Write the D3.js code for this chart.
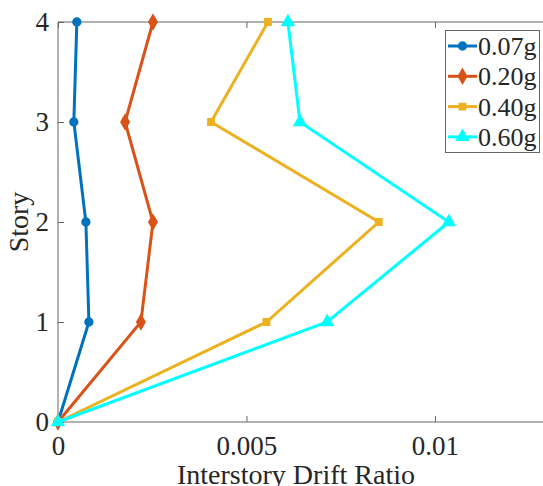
<!DOCTYPE html>
<html lang="en">
<head>
<meta charset="utf-8">
<style>
  body { margin: 0; background: #fff; }
  text { font-family: "Liberation Serif", "Times New Roman", serif; fill: #262626; }
</style>
</head>
<body>
<svg width="543" height="486"></svg>
<script src="https://cdn.jsdelivr.net/npm/d3@7"></script>
<script>
// story levels and drift ratio per PGA level
var stories = [0, 1, 2, 3, 4];
var drift007 = [0, 0.00082, 0.00074, 0.00042, 0.00050];
var drift020 = [0, 0.00220, 0.00252, 0.00178, 0.00252];
var drift040 = [0, 0.00553, 0.00851, 0.00406, 0.00557];
var drift060 = [0, 0.00714, 0.01037, 0.00642, 0.00610];
var seriesNames = ["0.07g", "0.20g", "0.40g", "0.60g"];
var xTicks = [0, 0.005, 0.01];
var xTickLabels = ["0", "0.005", "0.01"];

var colors = ["#0072BD", "#D95319", "#EDB120", "#00FFFF"];
var shapes = [d3.symbolCircle, d3.symbolDiamond, d3.symbolSquare, d3.symbolTriangle];
var sizes = [48, 60, 40, 60];
var allDrift = [drift007, drift020, drift040, drift060];

var svg = d3.select("svg");
var mLeft = 58, mTop = 22, mRight = 548, mBottom = 422;

var x = d3.scaleLinear().domain([0, 0.013]).range([mLeft, mRight]);
var y = d3.scaleLinear().domain([0, 4]).range([mBottom, mTop]);

var axisColor = "#666";

// bottom axis with inward ticks
var gx = svg.append("g").attr("transform", "translate(0," + mBottom + ")")
    .call(d3.axisBottom(x).tickValues(xTicks).tickSize(-6).tickPadding(14)
        .tickFormat(function (d, i) { return xTickLabels[i]; }));
gx.select(".domain").remove();
gx.selectAll(".tick line").attr("stroke", axisColor);
gx.selectAll("text").style("font-size", "27px").attr("fill", "#262626")
    .style("font-family", "Liberation Serif");

// top ticks mirror
svg.append("g").attr("transform", "translate(0," + mTop + ")")
    .call(d3.axisTop(x).tickValues(xTicks).tickSize(-6).tickFormat(""))
    .call(function (g) { g.select(".domain").remove(); g.selectAll("line").attr("stroke", axisColor); });

var gy = svg.append("g").attr("transform", "translate(" + mLeft + ",0)")
    .call(d3.axisLeft(y).tickValues(stories).tickSize(-6).tickPadding(9).tickFormat(d3.format("d")));
gy.select(".domain").remove();
gy.selectAll(".tick line").attr("stroke", axisColor);
gy.selectAll("text").style("font-size", "27px").attr("fill", "#262626")
    .style("font-family", "Liberation Serif");

// box
svg.append("line").attr("x1", mLeft).attr("x2", mRight).attr("y1", mBottom).attr("y2", mBottom).attr("stroke", axisColor);
svg.append("line").attr("x1", mLeft).attr("x2", mRight).attr("y1", mTop).attr("y2", mTop).attr("stroke", axisColor);
svg.append("line").attr("x1", mLeft).attr("x2", mLeft).attr("y1", mTop).attr("y2", mBottom).attr("stroke", axisColor);

// labels
svg.append("text").attr("x", 296).attr("y", 484)
    .attr("text-anchor", "middle").style("font-size", "28px").text("Interstory Drift Ratio");
svg.append("text").attr("transform", "translate(28," + (mTop + mBottom) / 2 + ") rotate(-90)")
    .attr("text-anchor", "middle").style("font-size", "28px").text("Story");

var line = d3.line()
    .x(function (d) { return x(d[0]); })
    .y(function (d) { return y(d[1]); });

allDrift.forEach(function (vals, k) {
    var pts = vals.map(function (v, i) { return [v, stories[i]]; });
    svg.append("path").datum(pts).attr("d", line)
        .attr("fill", "none").attr("stroke", colors[k]).attr("stroke-width", 3)
        .attr("stroke-linejoin", "miter");
    svg.selectAll(".m" + k).data(pts).enter().append("path")
        .attr("class", "m" + k)
        .attr("transform", function (d) { return "translate(" + x(d[0]) + "," + y(d[1]) + ")"; })
        .attr("d", d3.symbol().type(shapes[k]).size(sizes[k]))
        .attr("fill", colors[k]).attr("stroke", colors[k]).attr("stroke-width", 1.5);
});

// legend
var lg = svg.append("g");
lg.append("rect").attr("x", 445.5).attr("y", 30.5).attr("width", 94).attr("height", 122)
    .attr("fill", "#fff").attr("stroke", axisColor);
seriesNames.forEach(function (name, k) {
    var ly = 46 + k * 30.3;
    lg.append("line").attr("x1", 448).attr("x2", 477).attr("y1", ly).attr("y2", ly)
        .attr("stroke", colors[k]).attr("stroke-width", 3);
    lg.append("path").attr("transform", "translate(462.5," + ly + ")")
        .attr("d", d3.symbol().type(shapes[k]).size(sizes[k]))
        .attr("fill", colors[k]).attr("stroke", colors[k]).attr("stroke-width", 1.5);
    lg.append("text").attr("x", 478).attr("y", ly + 9).style("font-size", "26px").text(name);
});
</script>
</body>
</html>
